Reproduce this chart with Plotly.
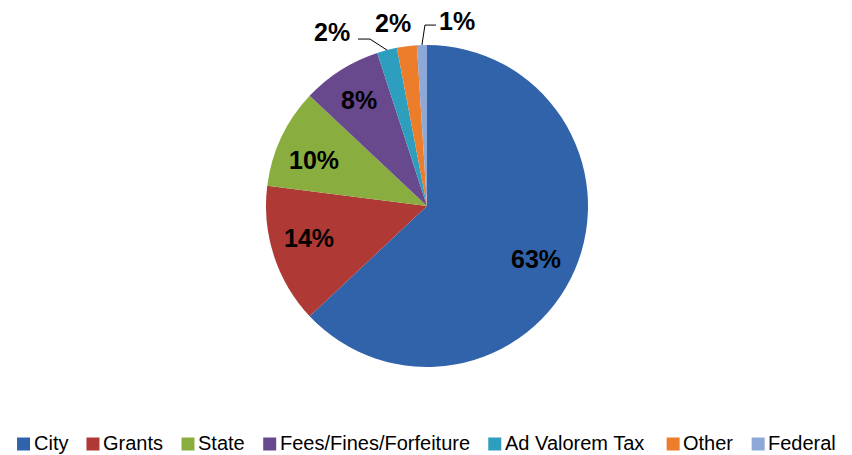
import math
import plotly.graph_objects as go

labels = ["City", "Grants", "State", "Fees/Fines/Forfeiture", "Ad Valorem Tax", "Other", "Federal"]
values = [63, 14, 10, 8, 2, 2, 1]
colors = ["#3163AA", "#AE3935", "#8AAD3F", "#68498D", "#2E9EBE", "#EB7D2B", "#8EA8D7"]

OFF = 8                      # page body margin in the browser
W, H = 852 - OFF, 455 - OFF  # figure fills the visible window exactly
cx, cy, r = 427, 206, 161    # pie centre / radius in screen pixels
LABEL_FONT = dict(family="Liberation Sans", size=25, color="black", weight="bold")
LEG_SIZE = 20


def P(x, y):
    """screen pixel -> paper coordinates"""
    return (x - OFF) / W, 1 - (y - OFF) / H


fx0, fy1 = P(cx - r, cy - r)
fx1, fy0 = P(cx + r, cy + r)

fig = go.Figure(go.Pie(
    labels=labels,
    values=values,
    sort=False,
    direction="clockwise",
    rotation=0,
    marker=dict(colors=colors, line=dict(width=0)),
    textinfo="none",
    domain=dict(x=[fx0, fx1], y=[fy0, fy1]),
    hoverinfo="label+percent",
    showlegend=False,
))

# data labels: inside ones at 0.76 r along mid-angle (small nudges), small ones outside with leaders
nudge = {0: (-3, 4), 1: (-2, -6), 2: (-2, 6), 3: (-2, -3)}
outside = {
    4: dict(label=(-55, -18), leader=[(-17, -11), (-29, -11)]),
    5: dict(label=(-14, -23), leader=None),
    6: dict(label=(35, -24), leader=[(3, -20), (14, -20)]),
}
total = sum(values)
cum = 0
for i, v in enumerate(values):
    mid = (cum + v / 2) / total * 2 * math.pi
    cum += v
    pct = f"{round(v / total * 100)}%"
    if i not in outside:
        dx, dy = nudge[i]
        px = cx + 0.76 * r * math.sin(mid) + dx
        py = cy - 0.76 * r * math.cos(mid) + dy
        x, y = P(px, py)
        fig.add_annotation(x=x, y=y, xref="paper", yref="paper", text=pct, showarrow=False,
                           xanchor="center", yanchor="middle", font=LABEL_FONT)
    else:
        ex = cx + r * math.sin(mid)
        ey = cy - r * math.cos(mid)
        o = outside[i]
        x, y = P(ex + o["label"][0], ey + o["label"][1])
        fig.add_annotation(x=x, y=y, xref="paper", yref="paper", text=pct, showarrow=False,
                           xanchor="center", yanchor="middle", font=LABEL_FONT, borderpad=0)
        if o["leader"]:
            pts = [P(ex, ey)] + [P(ex + dx, ey + dy) for dx, dy in o["leader"]]
            path = "M " + " L ".join(f"{a:.5f},{b:.5f}" for a, b in pts)
            fig.add_shape(type="path", path=path, xref="paper", yref="paper",
                          line=dict(color="black", width=1))

# custom legend (Arial / Liberation Sans advance widths, per 1000 em)
AW = {" ": 278, "/": 278, "A": 667, "C": 722, "F": 611, "G": 778, "O": 778, "S": 667,
      "T": 611, "V": 667, "a": 556, "d": 556, "e": 556, "f": 278, "h": 556, "i": 222,
      "l": 222, "m": 833, "n": 556, "o": 556, "r": 333, "s": 500, "t": 278, "u": 556,
      "x": 500, "y": 500}


def text_w(s):
    return sum(AW.get(c, 556) for c in s) * LEG_SIZE / 1000


SQ, SQ_GAP, ITEM_GAP = 13, 2.5, 19.5
widths = [SQ + SQ_GAP + text_w(s) for s in labels]
total_w = sum(widths) + ITEM_GAP * (len(labels) - 1)
x = 426 - total_w / 2
leg_y = 444
for lab, col, w in zip(labels, colors, widths):
    a0, b0 = P(x, leg_y - SQ / 2)
    a1, b1 = P(x + SQ, leg_y + SQ / 2)
    fig.add_shape(type="rect", xref="paper", yref="paper", x0=a0, x1=a1, y0=b1, y1=b0,
                  fillcolor=col, line=dict(width=0))
    tx, ty = P(x + SQ + SQ_GAP, leg_y - 1)
    fig.add_annotation(x=tx, y=ty, xref="paper", yref="paper", text=lab, showarrow=False,
                       xanchor="left", yanchor="middle", borderpad=0,
                       font=dict(family="Liberation Sans", size=LEG_SIZE, color="black"))
    x += w + ITEM_GAP

fig.update_layout(
    width=W, height=H,
    margin=dict(l=0, r=0, t=0, b=0),
    paper_bgcolor="white",
    plot_bgcolor="white",
)

fig.write_html("out.html")
